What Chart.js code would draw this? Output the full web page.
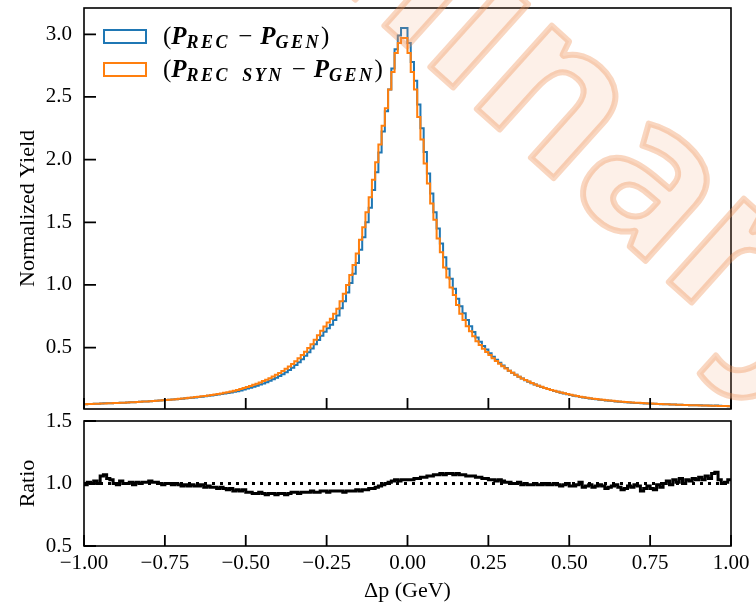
<!DOCTYPE html>
<html>
<head>
<meta charset="utf-8">
<title>Delta p</title>
<script src="https://cdn.jsdelivr.net/npm/chart.js@4.4.0/dist/chart.umd.min.js"></script>
<style>
  body { margin: 0; background: #fff; }
  #wrap { position: relative; width: 756px; height: 605px; overflow: hidden; }
  canvas { position: absolute; left: 0; }
  .key { position: absolute; left: 103px; width: 44px; height: 15px; box-sizing: border-box; border: 2px solid; }
  .lab { position: absolute; left: 163px; font-family: 'Liberation Serif', serif; font-size: 25px; line-height: 24px; color: #000; white-space: nowrap; }
  .lab b { font-style: italic; }
  .lab sub { font-size: 18px; font-style: italic; font-weight: bold; letter-spacing: 2.5px; vertical-align: -4px; }
  .lab .m { margin: 0 8px; }
  .lab .sp { margin-left: 12px; }
</style>
</head>
<body>
<div id="wrap">
  <canvas id="histChart" width="756" height="415" style="top:0"></canvas>
  <canvas id="ratioChart" width="756" height="210" style="top:395px"></canvas>
  <div class="key" style="top:29px; border-color:#1f77b4"></div>
  <div class="key" style="top:62px; border-color:#ff7f0e"></div>
  <div class="lab" style="top:24px">(<b>P</b><sub>REC</sub><span class="m">&minus;</span><b>P</b><sub>GEN</sub>)</div>
  <div class="lab" style="top:57px">(<b>P</b><sub>REC<span class="sp">SYN</span></sub><span class="m">&minus;</span><b>P</b><sub>GEN</sub>)</div>
</div>
<script>
// Delta p histograms, 200 bins of 0.01 GeV from -1 to 1

const xTicks = [-1, -0.75, -0.5, -0.25, 0, 0.25, 0.5, 0.75, 1];
const yTicksTop = [0.5, 1.0, 1.5, 2.0, 2.5, 3.0];
const yTicksRatio = [0.5, 1.0, 1.5];

// (P_REC - P_GEN)
const recValues = [
  0.048, 0.049, 0.050, 0.051, 0.052, 0.053, 0.055, 0.055, 0.056, 0.057,
  0.058, 0.059, 0.060, 0.062, 0.063, 0.064, 0.066, 0.067, 0.069, 0.070,
  0.072, 0.074, 0.076, 0.078, 0.080, 0.082, 0.083, 0.085, 0.087, 0.090,
  0.092, 0.095, 0.097, 0.100, 0.102, 0.105, 0.108, 0.111, 0.115, 0.118,
  0.121, 0.125, 0.129, 0.133, 0.137, 0.142, 0.147, 0.152, 0.158, 0.165,
  0.173, 0.180, 0.188, 0.196, 0.205, 0.214, 0.224, 0.235, 0.247, 0.259,
  0.273, 0.288, 0.304, 0.321, 0.340, 0.361, 0.384, 0.408, 0.434, 0.462,
  0.493, 0.526, 0.560, 0.594, 0.626, 0.655, 0.683, 0.720, 0.757, 0.813,
  0.870, 0.940, 1.015, 1.090, 1.175, 1.280, 1.380, 1.500, 1.615, 1.757,
  1.900, 2.056, 2.225, 2.386, 2.560, 2.727, 2.880, 2.990, 3.050, 3.050,
  2.930, 2.780, 2.630, 2.440, 2.250, 2.060, 1.890, 1.730, 1.580, 1.450,
  1.330, 1.220, 1.130, 1.050, 0.970, 0.890, 0.830, 0.775, 0.720, 0.670,
  0.625, 0.580, 0.546, 0.512, 0.484, 0.455, 0.427, 0.403, 0.379, 0.357,
  0.337, 0.316, 0.299, 0.283, 0.268, 0.253, 0.240, 0.228, 0.216, 0.205,
  0.195, 0.186, 0.177, 0.169, 0.161, 0.154, 0.147, 0.140, 0.134, 0.128,
  0.122, 0.116, 0.111, 0.106, 0.102, 0.098, 0.094, 0.090, 0.087, 0.084,
  0.081, 0.078, 0.075, 0.073, 0.070, 0.068, 0.066, 0.064, 0.062, 0.060,
  0.058, 0.057, 0.055, 0.054, 0.053, 0.052, 0.051, 0.049, 0.048, 0.048,
  0.047, 0.046, 0.045, 0.044, 0.043, 0.042, 0.041, 0.040, 0.040, 0.039,
  0.039, 0.038, 0.038, 0.037, 0.036, 0.037, 0.035, 0.034, 0.034, 0.032
];

// (P_REC SYN - P_GEN)
const synValues = [
  0.048, 0.049, 0.050, 0.051, 0.052, 0.053, 0.054, 0.055, 0.056, 0.057,
  0.058, 0.059, 0.060, 0.062, 0.063, 0.064, 0.066, 0.067, 0.069, 0.070,
  0.072, 0.074, 0.076, 0.078, 0.080, 0.082, 0.084, 0.086, 0.088, 0.091,
  0.093, 0.096, 0.099, 0.102, 0.105, 0.108, 0.111, 0.114, 0.118, 0.121,
  0.125, 0.129, 0.134, 0.139, 0.144, 0.150, 0.156, 0.162, 0.169, 0.177,
  0.186, 0.194, 0.203, 0.212, 0.222, 0.233, 0.244, 0.256, 0.269, 0.283,
  0.298, 0.314, 0.332, 0.350, 0.370, 0.392, 0.415, 0.440, 0.467, 0.496,
  0.527, 0.562, 0.598, 0.634, 0.668, 0.700, 0.730, 0.770, 0.810, 0.870,
  0.930, 1.000, 1.080, 1.160, 1.250, 1.360, 1.460, 1.580, 1.700, 1.840,
  1.980, 2.120, 2.270, 2.410, 2.560, 2.700, 2.850, 2.930, 2.970, 2.970,
  2.850, 2.700, 2.560, 2.340, 2.160, 1.970, 1.810, 1.650, 1.520, 1.370,
  1.260, 1.140, 1.060, 0.980, 0.920, 0.840, 0.770, 0.720, 0.670, 0.630,
  0.590, 0.550, 0.520, 0.490, 0.465, 0.440, 0.415, 0.393, 0.372, 0.352,
  0.334, 0.316, 0.299, 0.283, 0.268, 0.254, 0.241, 0.229, 0.217, 0.206,
  0.196, 0.187, 0.178, 0.170, 0.162, 0.155, 0.148, 0.141, 0.135, 0.129,
  0.123, 0.118, 0.113, 0.108, 0.104, 0.100, 0.096, 0.092, 0.089, 0.086,
  0.083, 0.080, 0.077, 0.075, 0.072, 0.070, 0.068, 0.066, 0.064, 0.062,
  0.060, 0.059, 0.057, 0.056, 0.054, 0.053, 0.052, 0.050, 0.049, 0.048,
  0.047, 0.046, 0.045, 0.044, 0.043, 0.042, 0.041, 0.040, 0.040, 0.039,
  0.038, 0.037, 0.037, 0.036, 0.035, 0.035, 0.034, 0.033, 0.033, 0.032
];

// ratio panel
const ratioValues = [
  0.99, 1.01, 1.00, 1.02, 1.00, 1.06, 1.07, 1.04, 1.03, 1.00,
  0.99, 1.02, 1.00, 1.00, 1.01, 0.99, 1.01, 1.00, 1.01, 1.01,
  1.02, 1.01, 1.01, 1.00, 0.99, 1.00, 1.00, 0.99, 1.00, 0.99,
  0.98, 0.99, 0.98, 0.99, 0.98, 0.98, 0.99, 0.97, 0.98, 0.97,
  0.97, 0.96, 0.97, 0.96, 0.95, 0.96, 0.94, 0.95, 0.94, 0.95,
  0.93, 0.93, 0.92, 0.92, 0.93, 0.92, 0.91, 0.92, 0.92, 0.91,
  0.92, 0.92, 0.91, 0.92, 0.93, 0.93, 0.92, 0.93, 0.93, 0.93,
  0.94, 0.93, 0.93, 0.94, 0.94, 0.93, 0.94, 0.94, 0.94, 0.94,
  0.93, 0.94, 0.94, 0.94, 0.95, 0.94, 0.95, 0.95, 0.96, 0.96,
  0.97, 0.98, 0.99, 1.00, 1.01, 1.02, 1.03, 1.02, 1.03, 1.03,
  1.03, 1.03, 1.04, 1.04, 1.05, 1.05, 1.06, 1.06, 1.07, 1.07,
  1.08, 1.07, 1.08, 1.08, 1.07, 1.08, 1.07, 1.07, 1.06, 1.06,
  1.06, 1.05, 1.05, 1.04, 1.04, 1.03, 1.03, 1.02, 1.03, 1.02,
  1.01, 1.01, 1.00, 1.00, 1.01, 0.99, 1.00, 0.99, 0.99, 1.00,
  0.99, 0.99, 1.00, 0.99, 0.99, 1.00, 0.99, 0.98, 0.99, 1.00,
  0.98, 0.98, 0.99, 1.01, 0.97, 0.98, 0.99, 0.97, 0.98, 0.99,
  0.98, 0.96, 0.97, 0.98, 0.99, 0.97, 0.95, 0.96, 0.98, 0.97,
  0.99, 0.98, 0.94, 0.96, 0.98, 0.96, 0.95, 0.99, 0.97, 1.00,
  1.02, 0.99, 1.03, 1.01, 1.04, 1.00, 1.03, 1.02, 1.04, 1.03,
  1.05, 1.03, 1.06, 1.04, 1.08, 1.09, 1.03, 1.00, 1.01, 1.03
];
const ratioRef = 1.0;

// bin edges -1 ... 1
const binEdges = [];
for (let i = 0; i <= 200; i++) binEdges.push(Math.round((-1 + i * 0.01) * 100) / 100);

// histogram -> points at left edges, plus the last right edge
function toSteps(vals) {
  const pts = vals.map((v, i) => ({ x: binEdges[i], y: v }));
  pts.push({ x: binEdges[vals.length], y: vals[vals.length - 1] });
  return pts;
}

const fmtX = v => (v < 0 ? '\u2212' : '') + Math.abs(v).toFixed(2);
const fmtY = v => v.toFixed(1);

Chart.defaults.font.family = "'Liberation Serif', serif";
Chart.defaults.font.size = 21;
Chart.defaults.color = '#000';
const titleFont = { size: 22 };

// box round the plot + inward ticks (matplotlib look)
const framePlugin = {
  id: 'frame',
  afterDatasetsDraw(chart, args, opts) {
    const { ctx, chartArea: a, scales } = chart;
    ctx.save();
    ctx.strokeStyle = '#000';
    ctx.lineWidth = 1.6;
    ctx.strokeRect(a.left, a.top, a.right - a.left, a.bottom - a.top);
    ctx.beginPath();
    xTicks.forEach(v => {
      const px = scales.x.getPixelForValue(v);
      ctx.moveTo(px, a.bottom);
      ctx.lineTo(px, a.bottom - 11);
    });
    opts.yTicks.forEach(v => {
      const py = scales.y.getPixelForValue(v);
      ctx.moveTo(a.left, py);
      ctx.lineTo(a.left + 12, py);
    });
    ctx.lineWidth = 1.8;
    ctx.stroke();
    ctx.restore();
  }
};

// "Preliminary" stamp
const stampPlugin = {
  id: 'stamp',
  afterDraw(chart) {
    const ctx = chart.ctx;
    ctx.save();
    ctx.translate(367, 10);
    ctx.rotate(42 * Math.PI / 180);
    ctx.font = "bold 205px 'Open Sans'";
    ctx.textAlign = 'center';
    ctx.textBaseline = 'alphabetic';
    ctx.lineJoin = 'round';
    ctx.fillStyle = 'rgba(245,160,110,0.16)';
    ctx.fillText('Preliminary', 0, 0);
    ctx.strokeStyle = 'rgba(238,140,80,0.36)';
    ctx.lineWidth = 6;
    ctx.strokeText('Preliminary', 0, 0);
    ctx.restore();
  }
};

const histChart = new Chart(document.getElementById('histChart'), {
  type: 'line',
  data: {
    datasets: [{
      label: '(P_REC - P_GEN)',
      data: toSteps(recValues),
      borderColor: '#1f77b4',
      borderWidth: 2,
      stepped: true,
      pointRadius: 0,
      fill: false,
      order: 2
    }, {
      label: '(P_REC SYN - P_GEN)',
      data: toSteps(synValues),
      borderColor: '#ff7f0e',
      borderWidth: 2,
      stepped: true,
      pointRadius: 0,
      fill: false,
      order: 1
    }]
  },
  options: {
    responsive: false,
    animation: false,
    layout: { padding: { top: 8, right: 25, bottom: 6, left: 0 } },
    plugins: {
      legend: { display: false },
      tooltip: { enabled: false },
      frame: { yTicks: yTicksTop }
    },
    scales: {
      x: {
        type: 'linear', min: -1, max: 1,
        ticks: { display: false },
        grid: { display: false, drawTicks: false },
        border: { display: false },
        afterFit: s => { s.height = 0; s.paddingLeft = 0; s.paddingRight = 0; }
      },
      y: {
        min: 0.01, max: 3.21,
        ticks: { stepSize: 0.5, includeBounds: false, callback: fmtY, padding: 12 },
        grid: { display: false, drawTicks: false },
        border: { display: false },
        title: { display: true, text: 'Normalized Yield', font: titleFont, padding: { top: 15, bottom: 0 } },
        afterFit: s => { s.width = 84; s.paddingTop = 0; s.paddingBottom = 0; }
      }
    }
  },
  plugins: [framePlugin, stampPlugin]
});

const ratioChart = new Chart(document.getElementById('ratioChart'), {
  type: 'line',
  data: {
    datasets: [{
      label: 'ratio',
      data: toSteps(ratioValues),
      borderColor: '#000',
      borderWidth: 3,
      stepped: true,
      pointRadius: 0,
      fill: false,
      order: 1
    }, {
      label: 'one',
      data: [{ x: -1, y: ratioRef }, { x: 1, y: ratioRef }],
      borderColor: '#000',
      borderWidth: 3,
      borderDash: [3, 5],
      pointRadius: 0,
      fill: false,
      order: 2
    }]
  },
  options: {
    responsive: false,
    animation: false,
    layout: { padding: { top: 26, right: 25, bottom: 0, left: 0 } },
    plugins: {
      legend: { display: false },
      tooltip: { enabled: false },
      frame: { yTicks: yTicksRatio }
    },
    scales: {
      x: {
        type: 'linear', min: -1, max: 1,
        ticks: { stepSize: 0.25, callback: fmtX, padding: 5, maxRotation: 0 },
        grid: { display: false, drawTicks: false },
        border: { display: false },
        title: { display: true, text: '\u0394p (GeV)', font: titleFont, padding: { top: 0, bottom: 1 } },
        afterFit: s => { s.height = 59; s.paddingLeft = 0; s.paddingRight = 0; }
      },
      y: {
        min: 0.5, max: 1.5,
        ticks: { stepSize: 0.5, callback: fmtY, padding: 12 },
        grid: { display: false, drawTicks: false },
        border: { display: false },
        title: { display: true, text: 'Ratio', font: titleFont, padding: { top: 15, bottom: 0 } },
        afterFit: s => { s.width = 84; s.paddingTop = 0; s.paddingBottom = 0; }
      }
    }
  },
  plugins: [framePlugin]
});
</script>
</body>
</html>
